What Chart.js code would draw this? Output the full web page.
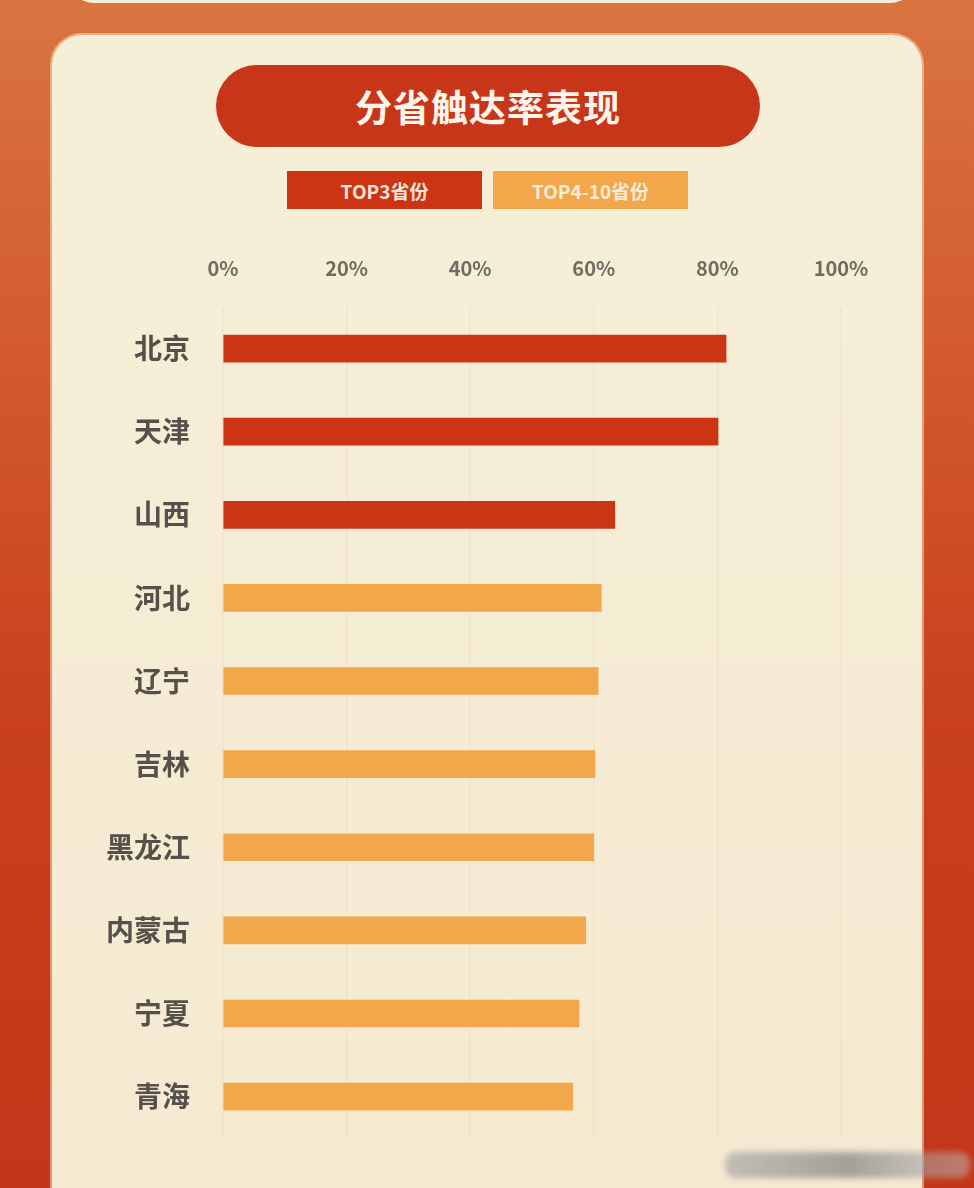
<!DOCTYPE html>
<html>
<head>
<meta charset="utf-8">
<script src="https://cdn.jsdelivr.net/npm/chart.js@4.4.0/dist/chart.umd.min.js"></script>
<style>
  html, body { margin: 0; padding: 0; }
  body {
    width: 974px; height: 1188px; overflow: hidden; position: relative;
    background: linear-gradient(180deg, #d97540 0%, #d35a2c 30%, #c9401d 60%, #c4361a 100%);
    font-family: "Noto Sans CJK SC", "Noto Sans", sans-serif;
  }
  .prev-card {
    position: absolute; left: 68px; top: -40px; width: 848px; height: 43px;
    background: #f6eed8; border-radius: 0 0 26px 26px;
  }
  .card {
    position: absolute; left: 52px; top: 35px; width: 870px; height: 1200px;
    background: linear-gradient(180deg, #f6efd8 0%, #f5e9d1 100%);
    border-radius: 30px; box-shadow: 0 0 0 2px rgba(255,235,210,0.5);
  }
  .title {
    position: absolute; left: 216px; top: 65px; width: 544px; height: 82px;
    background: #c8361a; border-radius: 41px;
    color: #fff5ea; font-size: 37px; font-weight: bold; letter-spacing: 1px;
    display: flex; align-items: center; justify-content: center;
  }
  .legend { position: absolute; top: 171px; height: 38px; width: 195px;
    display: flex; align-items: center; justify-content: center;
    font-size: 19px; font-weight: bold; }
  .watermark {
    position: absolute; left: 725px; top: 1152px; width: 245px; height: 26px;
    background: linear-gradient(90deg, rgba(160,160,160,0.6), rgba(130,130,130,0.7), rgba(190,190,190,0.5));
    filter: blur(3px); border-radius: 10px;
  }
  canvas { position: absolute; left: 0; top: 0; }
</style>
</head>
<body>
<div class="prev-card"></div>
<div class="card"></div>
<div class="title">分省触达率表现</div>
<div id="legendBox"></div>
<canvas id="reachChart" width="974" height="1188"></canvas>
<div class="watermark"></div>
<script>
'use strict';

// ---- data ----
const provinces = ['北京', '天津', '山西', '河北', '辽宁', '吉林', '黑龙江', '内蒙古', '宁夏', '青海'];
const top3Values = [81.4, 80.1, 63.4, null, null, null, null, null, null, null];
const top4to10Values = [null, null, null, 61.2, 60.7, 60.2, 60.0, 58.7, 57.6, 56.6];
const seriesNames = ['TOP3省份', 'TOP4-10省份'];
const xTicks = [0, 20, 40, 60, 80, 100];

const RED = '#cb3514';
const ORANGE = '#f2a74b';

// legend boxes (text inside the swatch, as in the poster)
(function buildLegend() {
  const box = document.getElementById('legendBox');
  const lefts = [287, 493];
  const bgs = [RED, ORANGE];
  const fgs = ['#fbe3d6', '#fcebd6'];
  seriesNames.forEach((name, i) => {
    const d = document.createElement('div');
    d.className = 'legend';
    d.textContent = name;
    d.style.left = lefts[i] + 'px';
    d.style.background = bgs[i];
    d.style.color = fgs[i];
    box.appendChild(d);
  });
})();

// ---- chart ----
new Chart(document.getElementById('reachChart'), {
  type: 'bar',
  data: {
    labels: provinces,
    datasets: [
      { label: seriesNames[0], data: top3Values, backgroundColor: RED, barThickness: 27, grouped: false },
      { label: seriesNames[1], data: top4to10Values, backgroundColor: ORANGE, barThickness: 27, grouped: false }
    ]
  },
  options: {
    indexAxis: 'y',
    responsive: false,
    animation: false,
    layout: { padding: { left: 0, right: 133, top: 0, bottom: 41 } },
    plugins: { legend: { display: false }, tooltip: { enabled: false } },
    scales: {
      x: {
        position: 'top',
        min: 0, max: 100,
        afterBuildTicks: s => { s.ticks = xTicks.map(v => ({ value: v })); },
        afterFit: s => { s.height = 307; },
        border: { display: false },
        grid: { color: 'rgba(225,210,182,0.3)', lineWidth: 1.5, drawTicks: false },
        ticks: {
          padding: 27,
          color: '#716b60',
          font: { family: '"Noto Sans CJK SC", "Noto Sans", sans-serif', size: 20, weight: 'bold' },
          callback: v => v + '%'
        }
      },
      y: {
        afterFit: s => { s.width = 223; },
        border: { display: false },
        grid: { display: false, drawTicks: false },
        ticks: {
          padding: 33,
          color: '#55514a',
          font: { family: '"Noto Sans CJK SC", sans-serif', size: 28, weight: 'bold' }
        }
      }
    }
  }
});
</script>
</body>
</html>
